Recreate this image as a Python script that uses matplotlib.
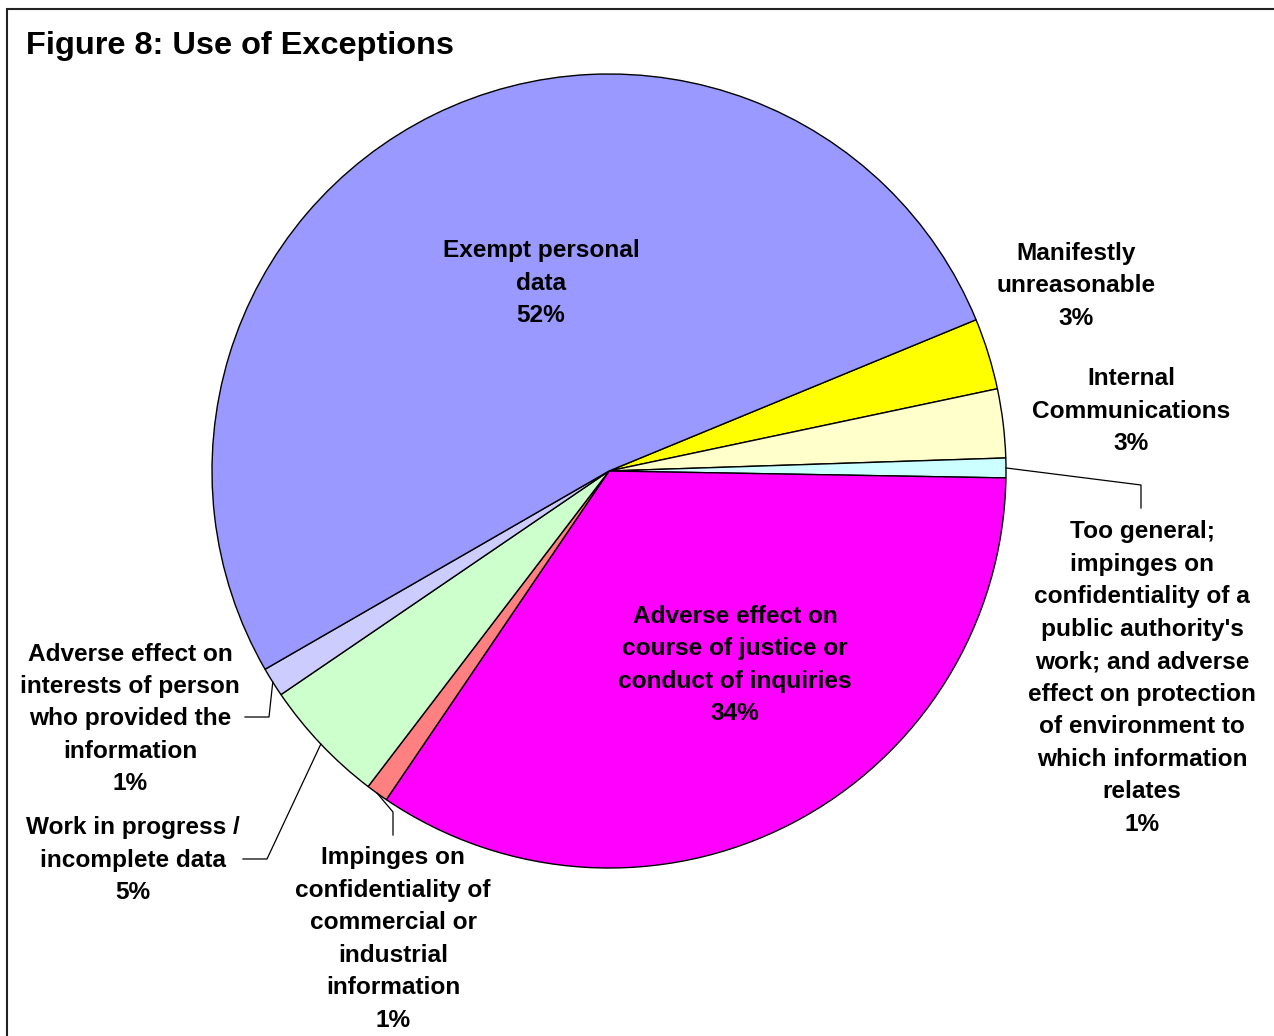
import numpy as np
import matplotlib
matplotlib.use("Agg")
import matplotlib.pyplot as plt
from matplotlib.patches import Rectangle

# slice data, clockwise from the top boundary of "Exempt personal data"
labels = [
    "Manifestly\nunreasonable",
    "Internal\nCommunications",
    "Too general;\nimpinges on\nconfidentiality of a\npublic authority's\nwork; and adverse\neffect on protection\nof environment to\nwhich information\nrelates",
    "Adverse effect on\ncourse of justice or\nconduct of inquiries",
    "Impinges on\nconfidentiality of\ncommercial or\nindustrial\ninformation",
    "Work in progress /\nincomplete data",
    "Adverse effect on\ninterests of person\nwho provided the\ninformation",
    "Exempt personal\ndata",
]
values = [2.9, 2.8, 0.8, 34.2, 0.9, 5.1, 1.2, 52.1]
colors = ["#FFFF00", "#FFFFCC", "#CCFFFF", "#FF00FF", "#FF8080",
          "#CCFFCC", "#CCCCFF", "#9999FF"]

W, H = 1274, 1036
plt.rcParams['font.family'] = ['Liberation Sans', 'DejaVu Sans']

fig = plt.figure(figsize=(W / 100, H / 100), dpi=100)
ax = fig.add_axes([0, 0, 1, 1])

# pixel helper: y measured from the top
def py(y):
    return H - y

cx, cy, r = 609, py(471), 397
wedges, _ = ax.pie(values, colors=colors, startangle=22.4, counterclock=False,
                   center=(cx, cy), radius=r,
                   wedgeprops=dict(edgecolor="black", linewidth=1.0))
ax.set_xlim(0, W)
ax.set_ylim(0, H)
ax.set_aspect("equal")
ax.axis("off")

total = sum(values)
pcts = [f"{round(v / total * 100):.0f}%" for v in values]

# label positions (pixel, centre of text block)
label_pos = [(1076, 286), (1131, 411), (1142, 678), (735, 665),
             (393, 939), (133, 860), (130, 719), (541, 283)]
fs = 17.6
for lab, pct, (x, y) in zip(labels, pcts, label_pos):
    ax.text(x, py(y), lab + "\n" + pct, ha="center", va="center",
            fontsize=fs, fontweight="bold", linespacing=1.525)

# leader lines
def wedge_point(i):
    w = wedges[i]
    th = np.deg2rad((w.theta1 + w.theta2) / 2)
    return cx + r * np.cos(th), cy + r * np.sin(th)

leaders = {
    2: [(1141, 485), (1141, 508)],
    4: [(393, 812), (393, 835)],
    5: [(267, 859), (243, 859)],
    6: [(269, 717), (245, 717)],
}
for i, pts in leaders.items():
    x0, y0 = wedge_point(i)
    xs = [x0] + [p[0] for p in pts]
    ys = [y0] + [py(p[1]) for p in pts]
    ax.plot(xs, ys, color="black", lw=0.9)

# title and frame
fig.text(26 / W, 1 - 54 / H, "Figure 8: Use of Exceptions", ha="left",
         va="baseline", fontsize=23.4, fontweight="bold")
fig.patches.append(Rectangle((7 / W, -0.1), 1.2, 1 - 9 / H + 0.1,
                             transform=fig.transFigure, fill=False,
                             edgecolor="#222222", lw=1.5))

fig.savefig("out.png", dpi=100)
